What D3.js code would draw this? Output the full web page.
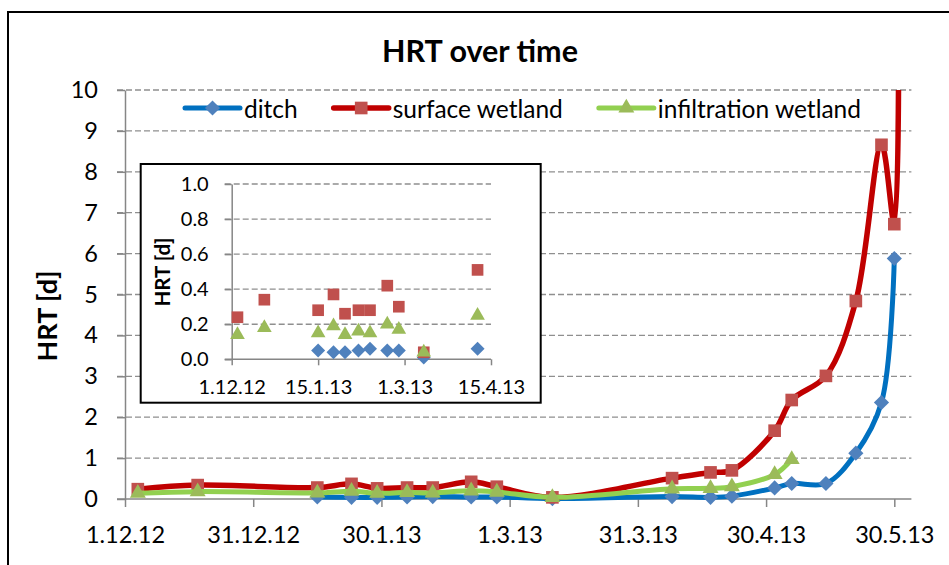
<!DOCTYPE html>
<html>
<head>
<meta charset="utf-8">
<script src="https://cdn.jsdelivr.net/npm/d3@7"></script>
<style>
  body { margin: 0; background: #fff; }
  text { font-family: Lato, "Open Sans", sans-serif; }
</style>
</head>
<body>
<div class="canvas"></div>
<script>
// sampling dates and HRT values [d]
const dates = ['4.12.12', '18.12.12', '15.1.13', '23.1.13', '29.1.13', '5.2.13', '11.2.13', '20.2.13', '26.2.13',
               '11.3.13', '8.4.13', '17.4.13', '22.4.13', '2.5.13', '6.5.13', '14.5.13', '21.5.13', '27.5.13',
               '30.5.13', '31.5.13']
const ditch = [null, null, 0.05, 0.04, 0.04, 0.05, 0.06, 0.05, 0.05,
               0.01, 0.06, 0.04, 0.07, 0.27, 0.38, 0.38, 1.12, 2.36,
               5.88, null]
const surfaceWetland = [0.24, 0.34, 0.28, 0.37, 0.26, 0.28, 0.28, 0.42, 0.30,
                        0.04, 0.51, 0.65, 0.70, 1.67, 2.42, 3.01, 4.84, 8.66,
                        6.72, 11]
const infiltrationWetland = [0.14, 0.18, 0.15, 0.19, 0.14, 0.16, 0.15, 0.20, 0.17,
                             0.04, 0.25, 0.26, 0.30, 0.60, 0.97, null, null, null,
                             null, null]

const seriesNames = ['ditch', 'surface wetland', 'infiltration wetland']
const xTickLabels = ['1.12.12', '31.12.12', '30.1.13', '1.3.13', '31.3.13', '30.4.13', '30.5.13']
const xEndLabel = '3.6.13'
const insetTickLabels = ['1.12.12', '15.1.13', '1.3.13', '15.4.13']

const parse = d3.utcParse('%d.%m.%y')

const dims = { width: 949, height: 565 }
const plot = { left: 125, right: 911.4, top: 90, bottom: 499 }
const inset = { x: 140.7, y: 164, w: 400, h: 238.7, left: 231.7, right: 491, top: 184, bottom: 359.3 }

const series = [
  { name: seriesNames[0], values: ditch, line: '#0070C0', fill: '#4F81BD', shape: 'diamond', lw: 5 },
  { name: seriesNames[1], values: surfaceWetland, line: '#C00000', fill: '#C0504D', shape: 'square', lw: 5.5 },
  { name: seriesNames[2], values: infiltrationWetland, line: '#92D050', fill: '#9BBB59', shape: 'triangle', lw: 5 }
]
series.forEach(s => {
  s.points = dates.map((d, i) => ({ date: parse(d), v: s.values[i] })).filter(p => p.v != null)
})

const svg = d3.select('.canvas')
              .append('svg')
              .attr('width', dims.width)
              .attr('height', dims.height)

svg.append('rect')
   .attr('width', dims.width).attr('height', dims.height).attr('fill', '#fff')

// chart border
svg.append('rect')
   .attr('x', 8).attr('y', 12)
   .attr('width', 945).attr('height', 570)
   .attr('fill', 'none').attr('stroke', '#000').attr('stroke-width', 2)

const x = d3.scaleUtc()
            .domain([parse(xTickLabels[0]), parse(xEndLabel)])
            .range([plot.left, plot.right])
const y = d3.scaleLinear().domain([0, 10]).range([plot.bottom, plot.top])

const markerPath = (shape, scale) => {
  if (shape === 'diamond') return d3.symbol(d3.symbolSquare, 115 * scale)()
  if (shape === 'square') return d3.symbol(d3.symbolSquare, 160 * scale)()
  return d3.symbol(d3.symbolTriangle, 110 * scale)()
}
const markerRotate = shape => shape === 'diamond' ? ' rotate(45)' : ''

// title
svg.append('text')
   .attr('x', 480).attr('y', 62)
   .attr('text-anchor', 'middle')
   .attr('font-size', 30.5).attr('font-weight', 'bold')
   .text('HRT over time')

// grid lines
const graph = svg.append('g')
graph.selectAll('.grid')
     .data(y.ticks(10).filter(d => d > 0))
     .enter().append('line')
     .attr('class', 'grid')
     .attr('x1', plot.left - 8).attr('x2', plot.right)
     .attr('y1', d => y(d)).attr('y2', d => y(d))
     .attr('stroke', '#8f8f8f').attr('stroke-width', 1.3)
     .attr('stroke-dasharray', '6,3')

// axes
const yAxis = graph.append('g')
     .attr('transform', `translate(${plot.left},0)`)
     .call(d3.axisLeft(y).ticks(10).tickSize(8).tickSizeOuter(0).tickPadding(19))
const xAxis = graph.append('g')
     .attr('transform', `translate(0,${plot.bottom})`)
     .call(d3.axisBottom(x).tickValues(xTickLabels.map(parse))
             .tickFormat(d3.utcFormat('%-d.%-m.%y')).tickSize(8).tickSizeOuter(0).tickPadding(19))
;[yAxis, xAxis].forEach(a => {
  a.selectAll('path, line').attr('stroke', '#868686').attr('stroke-width', 1.5)
  a.selectAll('text').attr('font-size', 23.5).attr('fill', '#000').attr('font-family', 'Lato')
})
xAxis.select('.domain').attr('d', `M${plot.left - 8},0H${plot.right}`)

svg.append('text')
   .attr('transform', 'translate(57,316) rotate(-90)')
   .attr('text-anchor', 'middle')
   .attr('font-size', 27).attr('font-weight', 'bold')
   .text('HRT [d]')

// series, clipped at the top of the plot
svg.append('clipPath').attr('id', 'clip')
   .append('rect').attr('x', 0).attr('y', plot.top).attr('width', dims.width).attr('height', dims.height)

const lineGen = d3.line().x(d => x(d.date)).y(d => y(d.v)).curve(d3.curveCatmullRom.alpha(0.5))
const layer = svg.append('g').attr('clip-path', 'url(#clip)')

series.forEach(s => {
  layer.append('path')
       .datum(s.points)
       .attr('fill', 'none')
       .attr('stroke', s.line)
       .attr('stroke-width', s.lw)
       .attr('stroke-linejoin', 'round')
       .attr('d', lineGen)
  layer.selectAll('.m-' + s.shape)
       .data(s.points)
       .enter().append('path')
       .attr('class', 'm-' + s.shape)
       .attr('d', markerPath(s.shape, 1))
       .attr('fill', s.fill)
       .attr('transform', d => `translate(${x(d.date)},${y(d.v)})` + markerRotate(s.shape))
})

// legend
const legend = svg.append('g').attr('transform', 'translate(185,108)')
let lx = 0
series.forEach(s => {
  const item = legend.append('g').attr('transform', `translate(${lx},0)`)
  item.append('line')
      .attr('x1', 0).attr('x2', 55)
      .attr('stroke', s.line).attr('stroke-width', s.lw).attr('stroke-linecap', 'round')
  item.append('path')
      .attr('d', markerPath(s.shape, 1))
      .attr('fill', s.fill)
      .attr('transform', 'translate(27.5,0)' + markerRotate(s.shape))
  const t = item.append('text')
      .attr('x', 59).attr('y', 10)
      .attr('font-size', 24.5)
      .text(s.name)
  lx += 59 + t.node().getComputedTextLength() + 36
})

// inset with the low values
const ins = svg.append('g')
ins.append('rect')
   .attr('x', inset.x).attr('y', inset.y).attr('width', inset.w).attr('height', inset.h)
   .attr('fill', '#fff').attr('stroke', '#000').attr('stroke-width', 2)

const xi = d3.scaleUtc()
             .domain([parse(insetTickLabels[0]), parse(insetTickLabels[insetTickLabels.length - 1])])
             .range([inset.left, inset.right])
const yi = d3.scaleLinear().domain([0, 1]).range([inset.bottom, inset.top])

ins.selectAll('.igrid')
   .data(yi.ticks(5).filter(d => d > 0))
   .enter().append('line')
   .attr('class', 'igrid')
   .attr('x1', inset.left - 7).attr('x2', inset.right)
   .attr('y1', d => yi(d)).attr('y2', d => yi(d))
   .attr('stroke', '#8f8f8f').attr('stroke-width', 1.3)
   .attr('stroke-dasharray', '6,3')

const yiAxis = ins.append('g')
   .attr('transform', `translate(${inset.left},0)`)
   .call(d3.axisLeft(yi).ticks(5).tickFormat(d3.format('.1f')).tickSize(7).tickSizeOuter(0).tickPadding(16))
const xiAxis = ins.append('g')
   .attr('transform', `translate(0,${inset.bottom})`)
   .call(d3.axisBottom(xi).tickValues(insetTickLabels.map(parse))
           .tickFormat(d3.utcFormat('%-d.%-m.%y')).tickSize(6).tickSizeOuter(0).tickPadding(15))
;[yiAxis, xiAxis].forEach(a => {
  a.selectAll('path, line').attr('stroke', '#868686').attr('stroke-width', 1.5)
  a.selectAll('text').attr('font-size', 20).attr('fill', '#000').attr('font-family', 'Lato')
})
xiAxis.select('.domain').attr('d', `M${inset.left - 7},0H${inset.right}`)

ins.append('text')
   .attr('transform', 'translate(170,272) rotate(-90)')
   .attr('text-anchor', 'middle')
   .attr('font-size', 20.5).attr('font-weight', 'bold')
   .text('HRT [d]')

series.forEach(s => {
  ins.selectAll('.im-' + s.shape)
     .data(s.points.filter(p => p.date <= xi.domain()[1] && p.v <= 1))
     .enter().append('path')
     .attr('class', 'im-' + s.shape)
     .attr('d', markerPath(s.shape, 0.85))
     .attr('fill', s.fill)
     .attr('transform', d => `translate(${xi(d.date)},${yi(d.v)})` + markerRotate(s.shape))
})
</script>
</body>
</html>
